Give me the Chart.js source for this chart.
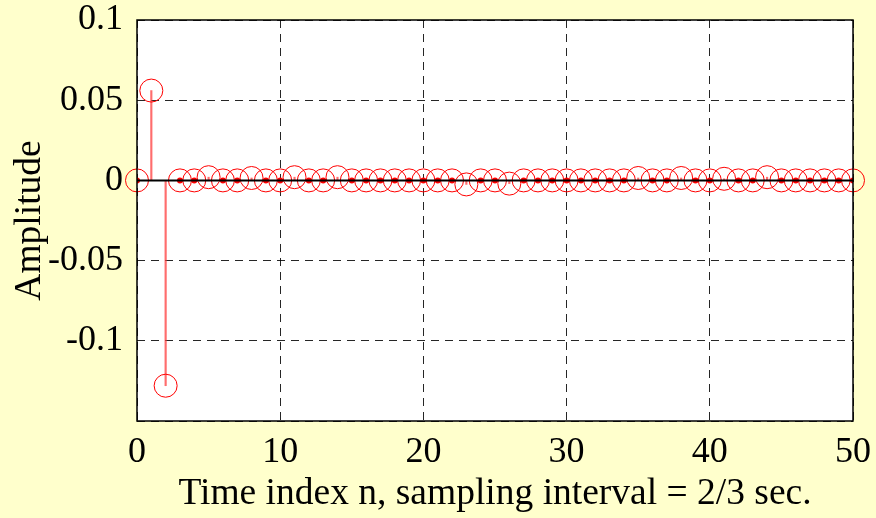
<!DOCTYPE html>
<html>
<head>
<meta charset="utf-8">
<script src="https://cdn.jsdelivr.net/npm/chart.js@4.4.1/dist/chart.umd.min.js"></script>
<style>
  html, body { margin: 0; padding: 0; background: #ffffcc; }
  #wrap { width: 876px; height: 518px; }
</style>
</head>
<body>
<div id="wrap"><canvas id="grafico"></canvas></div>
<script>
// -----------------------------
// Datos
// -----------------------------
const nIndex = Array.from({ length: 51 }, (_, i) => i);
const amplitud = [
  0, 0.056, -0.128, 0, 0, 0.002, 0, 0, 0.0015, 0,      // 0-9
  0, 0.002, 0, 0, 0.002, 0, 0, 0, 0, 0,                // 10-19
  0, 0, 0, -0.0025, 0, 0, -0.002, 0, 0, 0,             // 20-29
  0, 0, 0, 0, 0, 0.0015, 0, 0, 0.0015, 0,              // 30-39
  0, 0.001, 0, 0, 0.002, 0, 0, 0, 0, 0,                // 40-49
  0                                                    // 50
];
const xTicks = [0, 10, 20, 30, 40, 50];
const yTicks = [-0.1, -0.05, 0, 0.05, 0.1];
const yMin = -0.15, yMax = 0.1;

const puntos = nIndex.map((n, i) => ({ x: n, y: amplitud[i] }));
const puntosCero = puntos.filter(p => p.y === 0);
const lineaBase = [{ x: xTicks[0], y: 0 }, { x: xTicks[xTicks.length - 1], y: 0 }];

// -----------------------------
// Fondo amarillo + area blanca + marco
// -----------------------------
const fondo = {
  id: 'fondo',
  beforeDraw(chart) {
    const { ctx, chartArea: a } = chart;
    ctx.save();
    ctx.fillStyle = '#ffffcc';
    ctx.fillRect(0, 0, chart.width, chart.height);
    ctx.fillStyle = '#ffffff';
    ctx.fillRect(a.left, a.top, a.right - a.left, a.bottom - a.top);
    ctx.restore();
  },
  afterDraw(chart) {
    const { ctx, chartArea: a } = chart;
    ctx.save();
    ctx.strokeStyle = '#000';
    ctx.lineWidth = 1.5;
    ctx.strokeRect(a.left, a.top, a.right - a.left, a.bottom - a.top);
    ctx.restore();
  }
};

const fuente = { family: '"Liberation Serif", "Times New Roman", serif', size: 36, lineHeight: 1 };
const fuenteTitulo = { family: '"Liberation Serif", "Times New Roman", serif', size: 37.5, lineHeight: 1 };

new Chart(document.getElementById('grafico'), {
  type: 'scatter',
  data: {
    datasets: [
      { type: 'line', data: lineaBase, borderColor: '#000', borderWidth: 2, pointRadius: 0, order: 0 },
      { data: puntos, pointStyle: 'circle', pointRadius: 11.5, borderColor: '#ff0000', borderWidth: 1,
        backgroundColor: 'rgba(0,0,0,0)', clip: false, order: 1 },
      { data: puntosCero, pointRadius: 3, borderWidth: 0, backgroundColor: '#ff0000', order: 2 },
      { type: 'bar', data: puntos, backgroundColor: 'rgba(255,60,60,0.75)', barThickness: 1.5, order: 3 }
    ]
  },
  options: {
    responsive: true,
    maintainAspectRatio: false,
    animation: false,
    layout: { padding: { top: 20, right: 23, left: 0, bottom: 0 } },
    plugins: { legend: { display: false }, tooltip: { enabled: false } },
    scales: {
      x: {
        type: 'linear', min: xTicks[0], max: xTicks[xTicks.length - 1], offset: false,
        afterBuildTicks: s => { s.ticks = xTicks.map(v => ({ value: v })); },
        afterFit: s => { s.height = 97; s.paddingLeft = 0; s.paddingRight = 0; },
        grid: { color: 'rgba(0,0,0,0.85)', lineWidth: 1, drawTicks: false, offset: false },
        border: { display: false, dash: [8, 6] },
        ticks: { color: '#000', font: fuente, padding: 14, maxRotation: 0 },
        title: { display: true, text: 'Time index n, sampling interval = 2/3 sec.', color: '#000',
                 font: fuenteTitulo, padding: { top: 0, bottom: 5 } }
      },
      y: {
        type: 'linear', min: yMin, max: yMax,
        afterBuildTicks: s => { s.ticks = [yMin].concat(yTicks, [yMax]).filter((v, i, a) => a.indexOf(v) === i).map(v => ({ value: v })); },
        afterFit: s => { s.width = 137; s.paddingTop = 0; s.paddingBottom = 0; },
        grid: { color: 'rgba(0,0,0,0.85)', lineWidth: 1, drawTicks: false },
        border: { display: false, dash: [8, 6] },
        ticks: {
          color: '#000', font: fuente, padding: 14,
          callback: v => (v < yMin + 0.01 ? '' : String(Number(v.toFixed(3))))
        },
        title: { display: true, text: 'Amplitude', color: '#000', font: fuenteTitulo, padding: { top: 11, bottom: 0 } }
      }
    }
  },
  plugins: [fondo]
});
</script>
</body>
</html>
